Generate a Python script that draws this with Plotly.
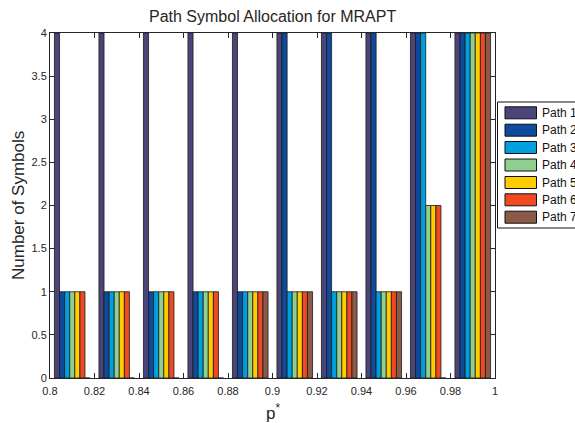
import plotly.graph_objects as go

# Symbols allocated to each path for each target probability p*
p_star = [0.81, 0.83, 0.85, 0.87, 0.89, 0.91, 0.93, 0.95, 0.97, 0.99]
path_names = ["Path 1", "Path 2", "Path 3", "Path 4", "Path 5", "Path 6", "Path 7"]
path1 = [4, 4, 4, 4, 4, 4, 4, 4, 4, 4]
path2 = [1, 1, 1, 1, 1, 4, 4, 4, 4, 4]
path3 = [1, 1, 1, 1, 1, 1, 1, 1, 4, 4]
path4 = [1, 1, 1, 1, 1, 1, 1, 1, 2, 4]
path5 = [1, 1, 1, 1, 1, 1, 1, 1, 2, 4]
path6 = [1, 1, 1, 1, 1, 1, 1, 1, 2, 4]
path7 = [0, 0, 0, 0, 1, 1, 1, 1, 0, 4]
x_ticks = [0.8, 0.82, 0.84, 0.86, 0.88, 0.9, 0.92, 0.94, 0.96, 0.98, 1.0]
x_tick_text = ["0.8", "0.82", "0.84", "0.86", "0.88", "0.9", "0.92", "0.94", "0.96", "0.98", "1"]
y_ticks = [0, 0.5, 1, 1.5, 2, 2.5, 3, 3.5, 4]
y_tick_text = ["0", "0.5", "1", "1.5", "2", "2.5", "3", "3.5", "4"]

series = [path1, path2, path3, path4, path5, path6, path7]
colors = ["#4a4578", "#0f4b9c", "#00a0e0", "#8fcf8f", "#ffcc00", "#f04a22", "#8c5a48"]

W, H = 575, 423
L, R, T, B = 50, 80, 33, 45
FONT = "Liberation Sans, Arial, sans-serif"
INK = "#262626"

fig = go.Figure()
for name, vals, col in zip(path_names, series, colors):
    fig.add_trace(go.Bar(
        x=p_star, y=vals, name=name,
        marker=dict(color=col, line=dict(color="#1a1a1a", width=0.8)),
        showlegend=False,
    ))

axis_common = dict(
    showgrid=False, zeroline=False, showline=True, linecolor=INK, linewidth=1,
    mirror="ticks", ticks="inside", ticklen=5, tickcolor=INK, tickwidth=1,
    tickfont=dict(family=FONT, size=11, color=INK),
)

fig.update_layout(
    width=W, height=H,
    margin=dict(l=L, r=R, t=T, b=B, pad=0),
    paper_bgcolor="white", plot_bgcolor="white",
    barmode="group", bargap=0.2, bargroupgap=0,
    showlegend=False,
    xaxis=dict(range=[0.8, 1.0], tickmode="array", tickvals=x_ticks,
               ticktext=x_tick_text, ticklabelstandoff=3, **axis_common),
    yaxis=dict(range=[0, 4], tickmode="array", tickvals=y_ticks,
               ticktext=y_tick_text, **axis_common),
)


def px_x(px):
    return (px - L) / (W - L - R)


def px_y(py):
    return (H - B - py) / (H - T - B)


annotations = [
    dict(text="Path Symbol Allocation for MRAPT", x=0.5, y=px_y(16.5),
         xanchor="center", yanchor="middle",
         font=dict(family=FONT, size=16, color=INK)),
    dict(text="Number of Symbols", x=px_x(18.5), y=0.5, textangle=-90,
         xanchor="center", yanchor="middle",
         font=dict(family=FONT, size=17, color=INK)),
    dict(text="p<sup>*</sup>", x=0.5, y=px_y(412),
         xanchor="center", yanchor="middle",
         font=dict(family=FONT, size=17, color=INK)),
]

# Legend box, swatches and labels
shapes = [dict(type="rect", xref="paper", yref="paper",
               x0=px_x(497.5), x1=px_x(640), y0=px_y(228), y1=px_y(102),
               line=dict(color="#111111", width=1), fillcolor="white", layer="above")]
row_y = [112.8, 130.2, 147.5, 165.0, 182.5, 199.8, 217.2]
for name, col, cy in zip(path_names, colors, row_y):
    shapes.append(dict(type="rect", xref="paper", yref="paper",
                       x0=px_x(505), x1=px_x(536.5), y0=px_y(cy + 6), y1=px_y(cy - 6),
                       line=dict(color="#111111", width=1), fillcolor=col, layer="above"))
    annotations.append(dict(text=name, x=px_x(539.5), y=px_y(cy),
                            xanchor="left", yanchor="middle", showarrow=False,
                            font=dict(family=FONT, size=12, color="#111111")))

for a in annotations:
    a.setdefault("xref", "paper")
    a.setdefault("yref", "paper")
    a.setdefault("showarrow", False)

fig.update_layout(annotations=annotations, shapes=shapes)
fig.write_html("out.html")
